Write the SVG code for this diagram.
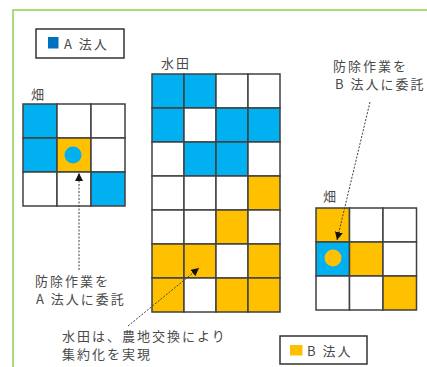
<svg xmlns="http://www.w3.org/2000/svg" width="427" height="367" viewBox="0 0 427 367">
<style>
  .t{font-family:"Noto Sans CJK JP","Noto Sans",sans-serif;font-size:13px;fill:#4a4a4a;letter-spacing:2px}
  .c{stroke:#404040;stroke-width:1.5}
  .b{fill:#00B0F0}
  .o{fill:#FFC000}
  .w{fill:#FFFFFF}
  .conn{stroke:#404040;stroke-width:1;stroke-dasharray:2 1.5;fill:none}
  .box{fill:#fff;stroke:#333;stroke-width:1.5}
</style>
<defs>
  <marker id="ah" markerUnits="userSpaceOnUse" markerWidth="8" markerHeight="8" refX="8" refY="4" orient="auto">
    <path d="M0,0 L8,4 L0,8 z" fill="#111"/>
  </marker>
</defs>
<rect width="427" height="367" fill="#fff"/>
<path d="M13,367 V10 H427" fill="none" stroke="#92D050" stroke-width="1.5"/>

<g id="legendA">
  <rect class="box" x="36" y="29" width="88" height="29"/>
  <rect x="48" y="37" width="10.5" height="11.5" fill="#0070C0"/>
  <text class="t" x="64" y="49">A 法人</text>
</g>

<g id="legendB">
  <rect class="box" x="280" y="336" width="87" height="28"/>
  <rect x="290" y="345" width="12.5" height="10.5" fill="#FFC000"/>
  <text class="t" x="307" y="356">B 法人</text>
</g>

<g id="fieldLeft">
  <text class="t" x="31" y="99">畑</text>
  <g class="c">
    <rect class="b" x="23" y="104" width="34" height="34"/>
    <rect class="w" x="57" y="104" width="34" height="34"/>
    <rect class="w" x="91" y="104" width="34" height="34"/>
    <rect class="b" x="23" y="138" width="34" height="34"/>
    <rect class="o" x="57" y="138" width="34" height="34"/>
    <rect class="w" x="91" y="138" width="34" height="34"/>
    <rect class="w" x="23" y="172" width="34" height="34"/>
    <rect class="w" x="57" y="172" width="34" height="34"/>
    <rect class="b" x="91" y="172" width="34" height="34"/>
  </g>
  <circle cx="73" cy="155" r="8.5" fill="#00B0F0"/>
</g>

<g id="paddy">
  <text class="t" x="161" y="68">水田</text>
  <g class="c">
    <rect class="b" x="152" y="74" width="32" height="34"/>
    <rect class="b" x="184" y="74" width="32" height="34"/>
    <rect class="w" x="216" y="74" width="32" height="34"/>
    <rect class="w" x="248" y="74" width="32" height="34"/>
    <rect class="b" x="152" y="108" width="32" height="34"/>
    <rect class="w" x="184" y="108" width="32" height="34"/>
    <rect class="b" x="216" y="108" width="32" height="34"/>
    <rect class="b" x="248" y="108" width="32" height="34"/>
    <rect class="w" x="152" y="142" width="32" height="34"/>
    <rect class="b" x="184" y="142" width="32" height="34"/>
    <rect class="b" x="216" y="142" width="32" height="34"/>
    <rect class="w" x="248" y="142" width="32" height="34"/>
    <rect class="w" x="152" y="176" width="32" height="34"/>
    <rect class="w" x="184" y="176" width="32" height="34"/>
    <rect class="w" x="216" y="176" width="32" height="34"/>
    <rect class="o" x="248" y="176" width="32" height="34"/>
    <rect class="w" x="152" y="210" width="32" height="34"/>
    <rect class="w" x="184" y="210" width="32" height="34"/>
    <rect class="o" x="216" y="210" width="32" height="34"/>
    <rect class="w" x="248" y="210" width="32" height="34"/>
    <rect class="o" x="152" y="244" width="32" height="34"/>
    <rect class="o" x="184" y="244" width="32" height="34"/>
    <rect class="w" x="216" y="244" width="32" height="34"/>
    <rect class="o" x="248" y="244" width="32" height="34"/>
    <rect class="o" x="152" y="278" width="32" height="34"/>
    <rect class="w" x="184" y="278" width="32" height="34"/>
    <rect class="o" x="216" y="278" width="32" height="34"/>
    <rect class="o" x="248" y="278" width="32" height="34"/>
  </g>
</g>

<g id="fieldRight">
  <text class="t" x="323" y="201">畑</text>
  <g class="c">
    <rect class="o" x="316" y="208" width="33.5" height="34"/>
    <rect class="w" x="349.5" y="208" width="33.5" height="34"/>
    <rect class="w" x="383" y="208" width="33.5" height="34"/>
    <rect class="b" x="316" y="242" width="33.5" height="34"/>
    <rect class="o" x="349.5" y="242" width="33.5" height="34"/>
    <rect class="w" x="383" y="242" width="33.5" height="34"/>
    <rect class="w" x="316" y="276" width="33.5" height="34"/>
    <rect class="w" x="349.5" y="276" width="33.5" height="34"/>
    <rect class="o" x="383" y="276" width="33.5" height="34"/>
  </g>
  <circle cx="333" cy="258" r="8.5" fill="#FFC000"/>
</g>

<g id="noteA">
  <text class="t" x="35" y="286">防除作業を</text>
  <text class="t" x="36" y="304">A 法人に委託</text>
</g>
<g id="noteB">
  <text class="t" x="333" y="71">防除作業を</text>
  <text class="t" x="335" y="89">B 法人に委託</text>
</g>
<g id="notePaddy">
  <text class="t" x="62" y="341">水田は、農地交換により</text>
  <text class="t" x="62" y="359">集約化を実現</text>
</g>

<g id="connectors">
  <line class="conn" x1="79" y1="270" x2="79" y2="173" marker-end="url(#ah)"/>
  <line class="conn" x1="370" y1="102" x2="337" y2="240" marker-end="url(#ah)"/>
  <line class="conn" x1="128" y1="326" x2="199" y2="268" marker-end="url(#ah)"/>
</g>
</svg>
